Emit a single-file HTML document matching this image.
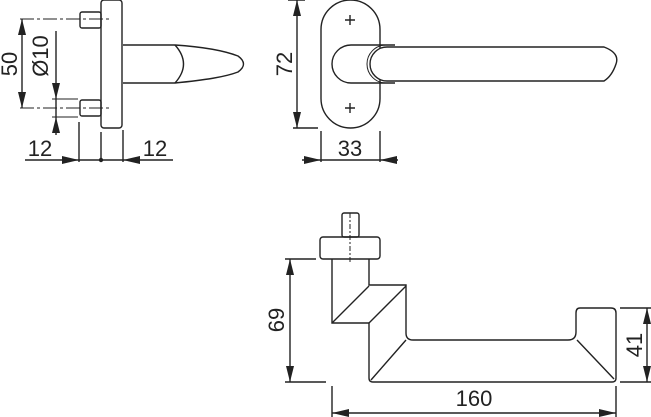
<!DOCTYPE html>
<html><head><style>body{margin:0;background:#fff}svg{display:block}</style></head><body>
<svg width="651" height="417" viewBox="0 0 651 417" xmlns="http://www.w3.org/2000/svg" font-family="Liberation Sans, sans-serif" font-size="22" fill="none" stroke="#222" stroke-width="1.4">
<!-- side view -->
<rect x="101" y="0" width="21" height="128" rx="3"/>
<rect x="80" y="12" width="21" height="16" rx="2"/>
<rect x="80" y="100" width="21" height="16" rx="2"/>
<path d="M123,45 L175,45 C205,47 225,51 238,56 Q249,64 238,72 C225,77 205,80 175,83 L123,83"/>
<path d="M175,45 Q192,64 175,83"/>
<g stroke-width="1" stroke-dasharray="14,3,3,3"><line x1="20" y1="19" x2="110" y2="19"/><line x1="20" y1="108" x2="110" y2="108"/></g>
<line x1="52" y1="99" x2="78" y2="99" stroke-width="1"/><line x1="52" y1="117" x2="78" y2="117" stroke-width="1"/>
<line x1="22" y1="19" x2="22" y2="108"/>
<line x1="56" y1="31" x2="56" y2="135"/>
<line x1="79" y1="122" x2="79" y2="162"/><line x1="101" y1="132" x2="101" y2="162"/><line x1="123" y1="130" x2="123" y2="162"/>
<line x1="25" y1="160" x2="173" y2="160"/>
<g fill="#222" stroke="none">
<path d="M22,19 l-4,16 h8z"/><path d="M22,108 l-4,-16 h8z"/>
<path d="M56,99 l-4,-16 h8z"/><path d="M56,117 l-4,16 h8z"/>
<path d="M79,160 l-17,-4 v8z"/><path d="M123,160 l17,-4 v8z"/>
<circle cx="101" cy="160" r="2.2"/>
<path d="M297,0 l-4,16 h8z"/><path d="M297,128 l-4,-16 h8z"/>
<path d="M321,160 l-17,-4 v8z"/><path d="M380,160 l17,-4 v8z"/>
<path d="M290,259 l-4,16 h8z"/><path d="M290,382 l-4,-16 h8z"/>
<path d="M647,308 l-4,16 h8z"/><path d="M647,382 l-4,-16 h8z"/>
<path d="M332,413 l17,-4 v8z"/><path d="M616,413 l-17,-4 v8z"/>
<text x="40" y="156" text-anchor="middle">12</text>
<text x="155" y="156" text-anchor="middle">12</text>
<text transform="translate(17,64) rotate(-90)" text-anchor="middle">50</text>
<text transform="translate(48,56) rotate(-90)" text-anchor="middle">Ø10</text>
<text transform="translate(292,64) rotate(-90)" text-anchor="middle">72</text>
<text x="350" y="156" text-anchor="middle">33</text>
<text transform="translate(284,320) rotate(-90)" text-anchor="middle">69</text>
<text transform="translate(642,345) rotate(-90)" text-anchor="middle">41</text>
<text x="474" y="406" text-anchor="middle">160</text>
</g>
<!-- front view -->
<rect x="321" y="0" width="59" height="128" rx="29.5"/>
<path d="M345,20 h10 M350,15 v10 M345,108 h10 M350,103 v10"/>
<path d="M395,45 L351,45 A19,19 0 0 0 351,83 L395,83"/>
<path d="M386,45 A19,19 0 0 0 386,83" stroke-width="1"/>
<path fill="#fff" d="M387,47 L604,47 Q620,53 616,64 Q612,76 604,81 L387,81 A17,17 0 0 1 387,47 Z"/>
<line x1="297" y1="0" x2="297" y2="128"/>
<line x1="293" y1="128" x2="318" y2="128"/><line x1="288" y1="0" x2="305" y2="0"/>
<line x1="321" y1="131" x2="321" y2="162"/><line x1="380" y1="131" x2="380" y2="162"/>
<line x1="302" y1="160" x2="398" y2="160"/>
<!-- bottom view -->
<rect x="342" y="213" width="17" height="24" rx="2"/>
<rect x="320" y="237" width="60" height="22" rx="3"/>
<line x1="350" y1="213" x2="350" y2="262" stroke-dasharray="5,2,2,2" stroke-width="1"/>
<path d="M332,259 V323 H369 V378 Q369,382 373,382 H612 Q616,382 616,378 V313 Q616,308 611,308 H580 Q576,308 576,313 V332 Q576,340 568,340 H413 Q406,340 406,333 V285 H369 V259"/>
<path d="M332,323 L369,286 M369,323 L406,286 M406,340 L371,380 M577,340 L614,379"/>
<line x1="290" y1="259" x2="290" y2="382"/>
<line x1="285" y1="259" x2="316" y2="259"/><line x1="285" y1="382" x2="326" y2="382"/>
<line x1="647" y1="308" x2="647" y2="382"/>
<line x1="620" y1="308" x2="651" y2="308"/><line x1="620" y1="382" x2="651" y2="382"/>
<line x1="332" y1="386" x2="332" y2="417"/><line x1="616" y1="386" x2="616" y2="417"/>
<line x1="332" y1="413" x2="616" y2="413"/>
</svg>
</body></html>
